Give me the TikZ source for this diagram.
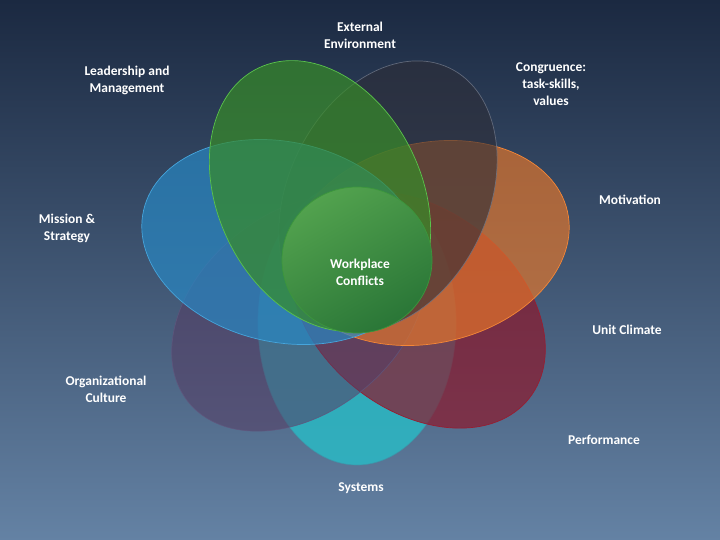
\documentclass[tikz,border=0pt]{standalone}
\usepackage{fontspec}
\setmainfont{Carlito}
\usetikzlibrary{shapes.geometric}
\definecolor{bgtop}{RGB}{27,41,65}
\definecolor{bgmid}{RGB}{50,75,108}
\definecolor{bgbot}{RGB}{100,130,164}
\definecolor{cgreen}{RGB}{55,140,40}
\definecolor{egreen}{RGB}{90,195,75}
\definecolor{cgray}{RGB}{45,45,55}
\definecolor{egray}{RGB}{110,118,135}
\definecolor{corange}{RGB}{235,120,40}
\definecolor{eorange}{RGB}{245,135,55}
\definecolor{cred}{RGB}{140,25,45}
\definecolor{ered}{RGB}{150,30,50}
\definecolor{ccyan}{RGB}{40,189,199}
\definecolor{ecyan}{RGB}{60,150,170}
\definecolor{cpurple}{RGB}{85,60,100}
\definecolor{epurple}{RGB}{95,85,125}
\definecolor{cblue}{RGB}{40,135,195}
\definecolor{eblue}{RGB}{70,165,220}
\definecolor{circtop}{RGB}{82,162,78}
\definecolor{circbot}{RGB}{42,118,55}
\definecolor{circedge}{RGB}{60,150,60}
\tikzset{
  petal/.style={line width=0.7bp},
  lbl/.style={text=white, align=center, font=\fontsize{13.5}{17}\selectfont\bfseries, inner sep=0pt}
}
\begin{document}
\begin{tikzpicture}[x=1bp,y=-1bp]
\useasboundingbox (0,0) rectangle (720,540);
\shade[top color=bgtop, middle color=bgmid, bottom color=bgbot] (0,0) rectangle (720,540);
% petals
\draw[petal, fill=ccyan, fill opacity=0.8, draw=ecyan, draw opacity=0.8] (357,323) ellipse [x radius=142bp, y radius=99bp, rotate=90];
\draw[petal, fill=cred, fill opacity=0.7, draw=ered] (418,310) ellipse [x radius=142bp, y radius=100bp, rotate=-38.6];
\draw[petal, fill=cpurple, fill opacity=0.55, draw=epurple, draw opacity=0.8] (299,313) ellipse [x radius=142bp, y radius=100bp, rotate=38.6];
\draw[petal, fill=corange, fill opacity=0.65, draw=eorange] (429,243) ellipse [x radius=142bp, y radius=100bp, rotate=12.9];
\draw[petal, fill=cgray, fill opacity=0.6, draw=egray, draw opacity=0.8] (388,196) ellipse [x radius=142bp, y radius=100bp, rotate=64.3];
\draw[petal, fill=cblue, fill opacity=0.7, draw=eblue] (282,242) ellipse [x radius=142bp, y radius=100bp, rotate=-12.9];
\draw[petal, fill=cgreen, fill opacity=0.7, draw=egreen] (320,196) ellipse [x radius=142bp, y radius=102bp, rotate=115.7];
% centre
\shade[top color=circtop, bottom color=circbot, shading angle=30] (357,260) ellipse [x radius=75bp, y radius=73bp];
\draw[petal, draw=circedge] (357,260) ellipse [x radius=75bp, y radius=73bp];
% labels
\node[lbl] (work) at (360,272) {Workplace\\Conflicts};
\node[lbl] (ext) at (360,35.5) {External\\Environment};
\node[lbl] (lead) at (127,80) {Leadership and\\Management};
\node[lbl] (cong) at (551,84) {Congruence:\\task-skills,\\values};
\node[lbl] (mot) at (630,200) {Motivation};
\node[lbl] (mis) at (67,228) {Mission \&\\Strategy};
\node[lbl] (unit) at (627,330) {Unit Climate};
\node[lbl] (org) at (106,389) {Organizational\\Culture};
\node[lbl] (perf) at (604,440) {Performance};
\node[lbl] (sys) at (361,488) {Systems};
\end{tikzpicture}
\end{document}
